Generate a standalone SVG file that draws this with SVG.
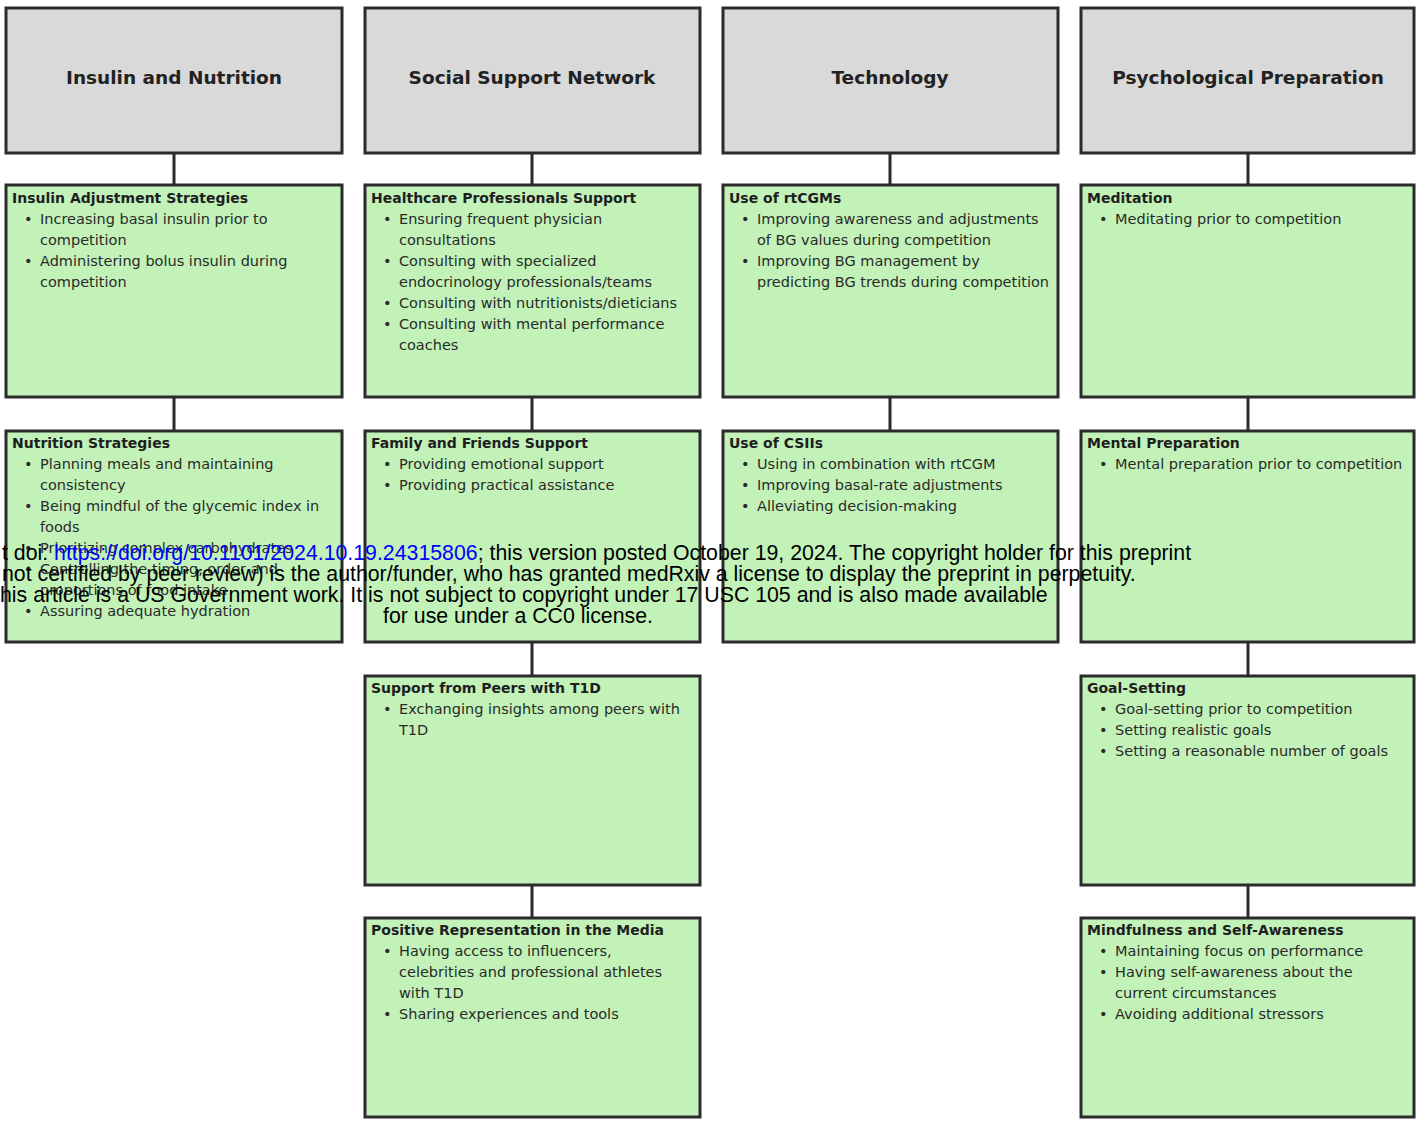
<svg xmlns="http://www.w3.org/2000/svg" width="1416" height="1125" viewBox="0 0 1416 1125">
<style>
.hdr{fill:#d9d9d9;stroke:#2b2b2b;stroke-width:3}
.box{fill:#c2f2b8;stroke:#2b2b2b;stroke-width:3}
.ht{font-family:"DejaVu Sans",Verdana,sans-serif;font-weight:bold;font-size:18.5px;fill:#222;text-anchor:middle}
.t{font-family:"DejaVu Sans",Verdana,sans-serif;font-weight:bold;font-size:14px;fill:#1e1e1e}
.b{font-family:"DejaVu Sans",Verdana,sans-serif;font-size:14.5px;fill:#2a2a2a}
.con{stroke:#2b2b2b;stroke-width:3;fill:none}
.ov{font-family:"Liberation Sans",Arial,sans-serif;font-size:21.3px;fill:#000}
</style>
<rect width="1416" height="1125" fill="#fff"/>
<g id="connectors">
<path class="con" d="M174 153V185M174 397V431"/>
<path class="con" d="M532 153V185M532 397V431M532 642V676M532 885V918"/>
<path class="con" d="M890 153V185M890 397V431"/>
<path class="con" d="M1248 153V185M1248 397V431M1248 642V676M1248 885V918"/>
</g>
<g id="h1"><rect class="hdr" x="6" y="8" width="336" height="145"/><text class="ht" x="174" y="84">Insulin and Nutrition</text></g>
<g id="h2"><rect class="hdr" x="365" y="8" width="335" height="145"/><text class="ht" x="532" y="84">Social Support Network</text></g>
<g id="h3"><rect class="hdr" x="723" y="8" width="335" height="145"/><text class="ht" x="890" y="84">Technology</text></g>
<g id="h4"><rect class="hdr" x="1081" y="8" width="333" height="145"/><text class="ht" x="1248" y="84">Psychological Preparation</text></g>

<g id="n11"><rect class="box" x="6" y="185" width="336" height="212"/>
<text class="t" x="12" y="203">Insulin Adjustment Strategies</text>
<text class="b"><tspan x="24" y="224">•</tspan><tspan x="40" y="224">Increasing basal insulin prior to</tspan><tspan x="40" y="245">competition</tspan><tspan x="24" y="266">•</tspan><tspan x="40" y="266">Administering bolus insulin during</tspan><tspan x="40" y="287">competition</tspan></text></g>

<g id="n12"><rect class="box" x="6" y="431" width="336" height="211"/>
<text class="t" x="12" y="448">Nutrition Strategies</text>
<text class="b"><tspan x="24" y="469">•</tspan><tspan x="40" y="469">Planning meals and maintaining</tspan><tspan x="40" y="490">consistency</tspan><tspan x="24" y="511">•</tspan><tspan x="40" y="511">Being mindful of the glycemic index in</tspan><tspan x="40" y="532">foods</tspan><tspan x="24" y="553">•</tspan><tspan x="40" y="553">Prioritizing complex carbohydrates</tspan><tspan x="24" y="574">•</tspan><tspan x="40" y="574">Controlling the timing, order and</tspan><tspan x="40" y="595">proportions of food intake</tspan><tspan x="24" y="616">•</tspan><tspan x="40" y="616">Assuring adequate hydration</tspan></text></g>

<g id="n21"><rect class="box" x="365" y="185" width="335" height="212"/>
<text class="t" x="371" y="203">Healthcare Professionals Support</text>
<text class="b"><tspan x="383" y="224">•</tspan><tspan x="399" y="224">Ensuring frequent physician</tspan><tspan x="399" y="245">consultations</tspan><tspan x="383" y="266">•</tspan><tspan x="399" y="266">Consulting with specialized</tspan><tspan x="399" y="287">endocrinology professionals/teams</tspan><tspan x="383" y="308">•</tspan><tspan x="399" y="308">Consulting with nutritionists/dieticians</tspan><tspan x="383" y="329">•</tspan><tspan x="399" y="329">Consulting with mental performance</tspan><tspan x="399" y="350">coaches</tspan></text></g>

<g id="n22"><rect class="box" x="365" y="431" width="335" height="211"/>
<text class="t" x="371" y="448">Family and Friends Support</text>
<text class="b"><tspan x="383" y="469">•</tspan><tspan x="399" y="469">Providing emotional support</tspan><tspan x="383" y="490">•</tspan><tspan x="399" y="490">Providing practical assistance</tspan></text></g>

<g id="n23"><rect class="box" x="365" y="676" width="335" height="209"/>
<text class="t" x="371" y="693">Support from Peers with T1D</text>
<text class="b"><tspan x="383" y="714">•</tspan><tspan x="399" y="714">Exchanging insights among peers with</tspan><tspan x="399" y="735">T1D</tspan></text></g>

<g id="n24"><rect class="box" x="365" y="918" width="335" height="199"/>
<text class="t" x="371" y="935">Positive Representation in the Media</text>
<text class="b"><tspan x="383" y="956">•</tspan><tspan x="399" y="956">Having access to influencers,</tspan><tspan x="399" y="977">celebrities and professional athletes</tspan><tspan x="399" y="998">with T1D</tspan><tspan x="383" y="1019">•</tspan><tspan x="399" y="1019">Sharing experiences and tools</tspan></text></g>

<g id="n31"><rect class="box" x="723" y="185" width="335" height="212"/>
<text class="t" x="729" y="203">Use of rtCGMs</text>
<text class="b"><tspan x="741" y="224">•</tspan><tspan x="757" y="224">Improving awareness and adjustments</tspan><tspan x="757" y="245">of BG values during competition</tspan><tspan x="741" y="266">•</tspan><tspan x="757" y="266">Improving BG management by</tspan><tspan x="757" y="287">predicting BG trends during competition</tspan></text></g>

<g id="n32"><rect class="box" x="723" y="431" width="335" height="211"/>
<text class="t" x="729" y="448">Use of CSIIs</text>
<text class="b"><tspan x="741" y="469">•</tspan><tspan x="757" y="469">Using in combination with rtCGM</tspan><tspan x="741" y="490">•</tspan><tspan x="757" y="490">Improving basal-rate adjustments</tspan><tspan x="741" y="511">•</tspan><tspan x="757" y="511">Alleviating decision-making</tspan></text></g>

<g id="n41"><rect class="box" x="1081" y="185" width="333" height="212"/>
<text class="t" x="1087" y="203">Meditation</text>
<text class="b"><tspan x="1099" y="224">•</tspan><tspan x="1115" y="224">Meditating prior to competition</tspan></text></g>

<g id="n42"><rect class="box" x="1081" y="431" width="333" height="211"/>
<text class="t" x="1087" y="448">Mental Preparation</text>
<text class="b"><tspan x="1099" y="469">•</tspan><tspan x="1115" y="469">Mental preparation prior to competition</tspan></text></g>

<g id="n43"><rect class="box" x="1081" y="676" width="333" height="209"/>
<text class="t" x="1087" y="693">Goal-Setting</text>
<text class="b"><tspan x="1099" y="714">•</tspan><tspan x="1115" y="714">Goal-setting prior to competition</tspan><tspan x="1099" y="735">•</tspan><tspan x="1115" y="735">Setting realistic goals</tspan><tspan x="1099" y="756">•</tspan><tspan x="1115" y="756">Setting a reasonable number of goals</tspan></text></g>

<g id="n44"><rect class="box" x="1081" y="918" width="333" height="199"/>
<text class="t" x="1087" y="935">Mindfulness and Self-Awareness</text>
<text class="b"><tspan x="1099" y="956">•</tspan><tspan x="1115" y="956">Maintaining focus on performance</tspan><tspan x="1099" y="977">•</tspan><tspan x="1115" y="977">Having self-awareness about the</tspan><tspan x="1115" y="998">current circumstances</tspan><tspan x="1099" y="1019">•</tspan><tspan x="1115" y="1019">Avoiding additional stressors</tspan></text></g>

<g id="overlay">
<text class="ov" x="2" y="560">t doi: <tspan fill="#0000ff">https://doi.org/10.1101/2024.10.19.24315806</tspan>; this version posted October 19, 2024. The copyright holder for this preprint</text>
<text class="ov" x="2" y="581">not certified by peer review) is the author/funder, who has granted medRxiv a license to display the preprint in perpetuity.</text>
<text class="ov" x="0" y="602">his article is a US Government work. It is not subject to copyright under 17 USC 105 and is also made available</text>
<text class="ov" x="518" y="623" text-anchor="middle">for use under a CC0 license.</text>
</g>
</svg>
